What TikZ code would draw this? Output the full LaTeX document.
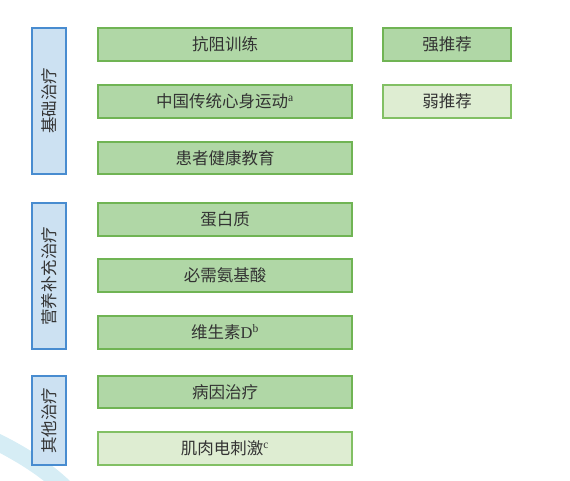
\documentclass[tikz,border=0pt]{standalone}
\usepackage{fontspec}
\setmainfont{Liberation Serif}
\newfontfamily\cjk{Noto Sans CJK SC}
\definecolor{strongfill}{RGB}{176,215,166}
\definecolor{strongdraw}{RGB}{112,180,84}
\definecolor{weakfill}{RGB}{222,237,210}
\definecolor{weakdraw}{RGB}{130,192,100}
\definecolor{catfill}{RGB}{204,225,242}
\definecolor{catdraw}{RGB}{72,140,208}
\definecolor{swoosh}{RGB}{214,237,245}
\tikzset{
  x=1pt,y=-1pt,
  strongbox/.style={draw=strongdraw,fill=strongfill,line width=1.2pt},
  weakbox/.style={draw=weakdraw,fill=weakfill,line width=1.2pt},
  catbox/.style={draw=catdraw,fill=catfill,line width=1.2pt},
  lab/.style={font=\cjk\fontsize{16.5}{17}\selectfont,text=black!80,inner sep=0pt},
  catlab/.style={lab,rotate=90}
}
\newcommand{\supx}[1]{\textsuperscript{\rmfamily #1}}
\begin{document}
\begin{tikzpicture}
\useasboundingbox (0,0) rectangle (570,481);
% watermark swoosh
\fill[swoosh] (0,434) .. controls (25,446) and (50,462) .. (70,481) -- (44,481) .. controls (30,470) and (15,461) .. (0,453) -- cycle;
% category boxes
\draw[catbox] (32,28) rectangle (66,174) node[midway,catlab] (c1) {基础治疗};
\draw[catbox] (32,203) rectangle (66,349) node[midway,catlab] (c2) {营养补充治疗};
\draw[catbox] (32,376) rectangle (66,465) node[midway,catlab] (c3) {其他治疗};
% item boxes
\draw[strongbox] (98,28) rectangle (352,61) node[midway,lab] (i1) {抗阻训练};
\draw[strongbox] (98,85) rectangle (352,118) node[midway,lab] (i2) {中国传统心身运动\supx{a}};
\draw[strongbox] (98,142) rectangle (352,174) node[midway,lab] (i3) {患者健康教育};
\draw[strongbox] (98,203) rectangle (352,236) node[midway,lab] (i4) {蛋白质};
\draw[strongbox] (98,259) rectangle (352,292) node[midway,lab] (i5) {必需氨基酸};
\draw[strongbox] (98,316) rectangle (352,349) node[midway,lab] (i6) {维生素{\rmfamily D}\supx{b}};
\draw[strongbox] (98,376) rectangle (352,408) node[midway,lab] (i7) {病因治疗};
\draw[weakbox] (98,432) rectangle (352,465) node[midway,lab] (i8) {肌肉电刺激\supx{c}};
% legend
\draw[strongbox] (383,28) rectangle (511,61) node[midway,lab] (l1) {强推荐};
\draw[weakbox] (383,85) rectangle (511,118) node[midway,lab] (l2) {弱推荐};
\end{tikzpicture}
\end{document}
